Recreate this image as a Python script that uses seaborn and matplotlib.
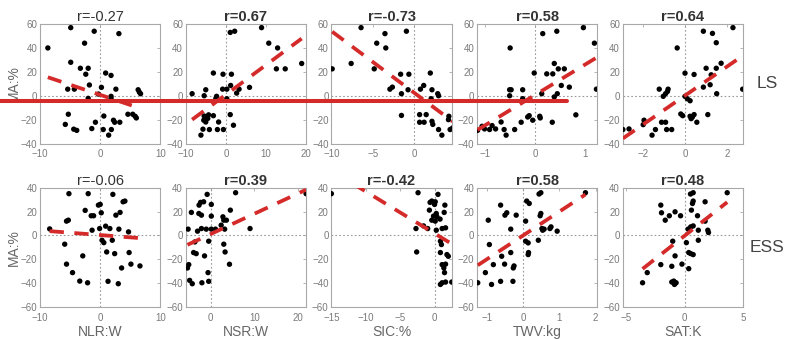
import numpy as np
import pandas as pd
import seaborn as sns
import matplotlib.pyplot as plt
from matplotlib.lines import Line2D

# ---------------- data ----------------
row_labels = ["LS", "ESS"]
x_labels = ["NLR:W", "NSR:W", "SIC:%", "TWV:kg", "SAT:K"]
y_label = "MA:%"
titles_ls = ["r=-0.27", "r=0.67", "r=-0.73", "r=0.58", "r=0.64"]
titles_ess = ["r=-0.06", "r=0.39", "r=-0.42", "r=0.58", "r=0.48"]
bold_ls = [False, True, True, True, True]
bold_ess = [False, True, True, True, True]

ls_nlr_x = [-8.7, -4.9, -1.0, 3.1, -2.6, -4.9, -3.3, -2.0, -2.4, 0.9, 1.8, -1.8, -5.4, -4.3, 0.2,
            2.6, 6.3, 6.5, 6.7, -0.3, 1.8, 1.8, -2.0, -5.3, 0.6, 4.6, 5.4, 5.8, 6.0, 2.2, 2.4,
            3.25, -0.8, -5.8, -4.4, -3.9, -1.4, 0.5, 1.85, 1.4]
ls_nlr_y = [40, 57, 54, 52, 44, 28, 23, 23, 18, 19, 17, 9, 5.5, 5.5, 7,
            5.5, 5, 3, 1.7, 1.4, -0.5, -2.5, -2.2, -15.5, -17, -15.5, -15.5, -17.2, -18.6, -20.5, -22.2,
            -22.2, -22.2, -24, -28, -29, -27.5, -28.3, -28.3, -33]

ls_nsr_x = [-8.4, -5.0, -5.4, -3.1, -0.7, 1.4, 1.1, 2.2, -0.8, 0.25, 1.2, 3.3, 2.7, 5.9, -2.3,
            -2.5, 0.25, -4.3, -5.4, -3.1, -5.5, -5.0, -5.7, -6.2, -4.1, -1.8, -2.1, -0.6, 1.1, 1.9,
            -4.5, 8.9, 10.7, 12.9, 12.6, 14.8, 18.9]
ls_nsr_y = [1.7, 5, 0, 19, 18, 18, 53, 54, 5.5, 5.5, 8.6, 5.5, 2.2, 7, -0.5,
            -2.5, -2.5, -16, -17, -16.7, -20.5, -22, -28, -33, -28.3, -22, -28.3, -28.3, -15.8, -24.7,
            -19, 57, 44, 40, 22.5, 22.5, 27]

ls_sic_x = [-9.9, -7.6, -6.4, -3.5, -0.9, -4.5, -3.4, -4.8, -1.6, -0.6, 2.0, -2.9, -2.6, -1.5, -0.7,
            0.8, 1.2, 2.2, 2.9, 3.0, 2.1, -1.5, 0.7, 1.5, 0.7, 1.25, 2.2, 2.3, 3.0, 3.4,
            4.4, 4.7, 4.2, 4.25]
ls_sic_y = [22.5, 27, 57, 52, 54, 44, 40, 22.5, 18, 18, 19, 5.5, 7.2, 1.7, 5,
            5.5, 8.6, 5, 1.7, 0, -2.5, -16.5, -15.8, -15.8, -22.2, -22.2, -21.4, -24, -28.3, -33,
            -28.3, -27, -20, -17.2]

ls_twv_x = [-0.5, 0.15, 0.43, 0.96, 1.18, 1.22, -0.02, 0.23, 0.35, 0.38, 0.46, 0.58, 0.52, 0.68, 0.44,
            0.38, 0.13, -0.51, -0.48, -0.51, -0.25, -0.25, 0.81, -0.12, -0.15, 0.09, 0.1, -0.05, -0.28, 0.34,
            -0.68, -0.86, -0.91, -0.79, -0.62, -0.41, -0.58, -1.06, -1.01, -1.15]
ls_twv_y = [40, 52, 54, 57, 44, 5.5, 19, 18.3, 18.3, 27, 22.5, 22.5, 8.6, 7.2, 1.7,
            -1, 1.7, 5, 5, 0, 5, -2.5, -16, -16.7, -17.8, -17.2, -18.6, -20.5, -22.2, -22.2,
            -22, -25, -28.3, -27.8, -28.3, -28.3, -33, -25.6, -27.8, -29]

ls_sat_x = [-0.37, 0.87, 1.3, 1.48, 2.27, 2.73, 0.0, 0.43, 1.0, 1.48, 1.71, 1.24, 1.19, 0.87, 1.5,
            -1.22, -0.8, -0.83, -0.92, -1.03, 0.0, 0.11, 0.24, -0.2, -0.11, 0.24, 0.35, 0.43, 0.29, 0.56,
            1.08, -1.94, -1.98, -1.11, -0.92, -2.94, -2.65, -1.4, -0.87, -0.63, -1.56]
ls_sat_y = [40, 54, 52.2, 44.4, 57, 5.5, 18.9, 17.8, 23, 23, 27.2, 17.5, 9.2, 7.2, 1.7,
            5.5, 5.5, 3.6, 1.7, -0.5, -0.5, -2.5, -4.2, -15.3, -16.7, -17.2, -17.8, -15.8, -19.2, -22.2,
            -15.8, -20.5, -24.2, -22.2, -22.2, -28.3, -27.8, -28.3, -28.3, -28.3, -33]

ess_nlr_x = [-5.2, -2.0, 2.1, 0.0, -0.3, 4.1, 3.8, -2.5, -1.5, -1.1, 2.6, 3.3, 0.17, -5.6, -5.3,
             -1.35, -0.1, 0.9, 1.6, 3.1, 4.7, -8.4, 0.3, 0.6, 2.0, -5.9, 1.07, 2.4, 4.8, -5.6,
             -2.9, 5.1, 6.6, 3.55, -4.6, -3.4, -2.1, 1.3, 3.0]
ess_nlr_y = [35, 35, 34.4, 26, 25.4, 28.8, 28.2, 21, 16.5, 16.5, 17, 19.3, 19, 12, 12.8,
             4.4, 5.8, 7.8, 5.8, 5.3, 3, 5.5, -4, -6, -4, -7.3, -13.8, -15.2, -14.3, -24,
             -17.1, -24, -25.5, -27.2, -31.1, -38.2, -39.6, -38.4, -40.4]

ess_nsr_x = [-4.4, -5.15, -2.3, -2.65, -1.6, -0.8, -2.7, -2.1, 0.15, 0.15, -3.0, -2.1, -1.0, 0.15, 1.1,
             2.4, 3.0, 2.8, 3.6, 4.5, 3.2, 5.7, 9.0, 21.8, -0.45, -3.6, -3.9, -3.3, -1.4, 3.0,
             3.3, 4.3, -5.0, -5.3, -0.6, -4.8, -4.2, -2.0, -0.45]
ess_nsr_y = [19.3, 5.3, 27.7, 25.4, 28.2, 34.4, 18.4, 17, 26, 16.2, 3.6, 5.8, 5.3, 5.3, 5.3,
             8.6, 12.8, 15.6, 12.8, 21.2, 5.3, 35.8, 5.8, 35, -4.8, -5.4, -14.3, -15.2, -17.1, -7.3,
             -13.8, -24.1, -24.4, -27.2, -31.1, -37.6, -40.4, -39.6, -38.4]

ess_sic_x = [-15.0, -2.4, 0.5, -0.4, 0.1, -0.65, 0.0, 1.5, -0.75, 0.25, 1.4, -0.15, 0.35, -0.4, 0.1,
             0.8, -2.7, -1.6, -1.0, 0.25, 1.1, 1.6, 0.85, 1.0, 0.85, -2.6, 1.8, 2.0, 1.1, 1.6,
             1.35, 1.45, 1.1, 0.85, 1.6, 2.5]
ess_sic_y = [35, 35.8, 34.4, 28.8, 28.2, 27.7, 26, 25.4, 21.2, 18.4, 19.3, 16.2, 15.6, 12.8, 12,
             13.7, 5.8, 8, 5.8, 4.4, 5.8, 6.4, -4.8, -7.6, -14.3, -13.8, -16, -17.4, -24.4, -24,
             -27.2, -31.1, -39.6, -41, -39, -39]

ess_twv_x = [0.44, 0.49, 1.72, -0.62, 0.1, 0.17, -0.5, -0.45, -0.19, 0.49, 0.47, -0.96, 0.07, -0.34, 0.52,
             0.58, 0.74, 0.77, 0.94, 0.54, 0.07, 0.14, 0.42, -0.93, -0.34, 0.15, 0.14, -0.59, -0.82, -0.51,
             -0.25, -0.27, -1.04, -1.25, -0.87, -0.62, -0.28]
ess_twv_y = [34.7, 35.8, 35.8, 25.4, 28.8, 26.8, 17, 19, 17, 18.4, 16.5, 12.8, 12, 5.3, 5.8,
             5.3, 5.8, 7.2, 3.6, 4.4, -4.8, -6.2, -4, -7.6, -14.3, -14.3, -16, -17.4, -24.4, -24,
             -25.5, -27.2, -31.1, -39.6, -41, -38.4, -38.4]

ess_sat_x = [0.5, 0.73, 3.64, -2.04, -1.98, -0.82, -1.31, -1.66, -0.35, 0.73, 0.67, 0.58, 1.1, 1.75, 1.75,
             0.29, 0.52, 0.73, 1.17, 1.98, 2.04, -1.02, 0.15, 1.17, -0.82, 0.35, 0.52, 0.73, -2.04, -1.1,
             -0.23, 0.35, -3.2, -3.6, -0.93, -0.73, -0.87, -1.1]
ess_sat_y = [34.7, 35.8, 35.8, 25.4, 19, 19.8, 16.5, 12.8, 16.5, 28.8, 26.8, 21.2, 16.5, 28.2, 12,
             5.3, 7.2, 8, 4.4, 4.4, 2.5, -4.8, -6, -4, -17.1, -14.3, -15.2, -16, -24.4, -25.8,
             -24, -27.8, -31.1, -39.6, -38.2, -39.6, -41, -39]

ls_data = [(ls_nlr_x, ls_nlr_y), (ls_nsr_x, ls_nsr_y), (ls_sic_x, ls_sic_y),
           (ls_twv_x, ls_twv_y), (ls_sat_x, ls_sat_y)]
ess_data = [(ess_nlr_x, ess_nlr_y), (ess_nsr_x, ess_nsr_y), (ess_sic_x, ess_sic_y),
            (ess_twv_x, ess_twv_y), (ess_sat_x, ess_sat_y)]

# ---------------- axis settings ----------------
xlims = [[(-10, 10), (-10, 20), (-10, 4.6), (-1.16, 1.24), (-2.95, 2.75)],
         [(-10, 10), (-5.7, 21.8), (-15, 2.5), (-1.27, 2.05), (-5.3, 5.0)]]
xticks = [[[-10, 0, 10], [-10, 0, 10, 20], [-10, -5, 0], [-1, 0, 1], [-2, 0, 2]],
          [[-10, 0, 10], [0, 10, 20], [-15, -10, -5, 0], [-1, 0, 1, 2], [-5, 0, 5]]]
ylims = [(-40, 60), (-60, 40)]
yticks = [[-40, -20, 0, 20, 40, 60], [-60, -40, -20, 0, 20, 40]]

sns.set_theme(style="white")
plt.rcParams['font.family'] = ['Liberation Sans', 'DejaVu Sans']

gray_txt = "#7a7a7a"
spine_c = "#a8a8a8"
red = "#d42a2a"

fig, axes = plt.subplots(2, 5, figsize=(7.88, 3.39), dpi=100)
fig.subplots_adjust(left=0.0508, right=0.943, top=0.929, bottom=0.094,
                    wspace=0.21, hspace=0.37)

all_data = [ls_data, ess_data]
all_titles = [titles_ls, titles_ess]
all_bold = [bold_ls, bold_ess]

for r in range(2):
    for c in range(5):
        ax = axes[r, c]
        xs, ys = all_data[r][c]
        df = pd.DataFrame({"x": xs, "y": ys})
        ax.axhline(0, color="#999999", ls=(0, (1.5, 2)), lw=0.8, zorder=1)
        ax.axvline(0, color="#999999", ls=(0, (1.5, 2)), lw=0.8, zorder=1)
        sns.regplot(data=df, x="x", y="y", ax=ax, ci=None, truncate=True,
                    scatter_kws=dict(s=15, color="black", alpha=1, edgecolors="none", zorder=3),
                    line_kws=dict(color=red, lw=2.7, ls=(0, (3.8, 2.8)), zorder=4))
        ax.set_xlim(*xlims[r][c])
        ax.set_ylim(*ylims[r])
        ax.set_xticks(xticks[r][c])
        ax.set_yticks(yticks[r])
        ax.set_xlabel("")
        ax.set_ylabel("")
        ax.tick_params(direction="in", length=2.5, width=0.6, colors=spine_c,
                       labelcolor=gray_txt, labelsize=7, pad=2,
                       top=True, right=True)
        ax.tick_params(axis="x", pad=4)
        for s in ax.spines.values():
            s.set_color(spine_c)
            s.set_linewidth(0.8)
        ax.set_title(all_titles[r][c], fontsize=10.5, pad=2, color="#333333",
                     fontweight="bold" if all_bold[r][c] else "normal")
        if c == 0:
            ax.set_ylabel(y_label, fontsize=10, color="#666666", labelpad=0)
        if r == 1:
            ax.set_xlabel(x_labels[c], fontsize=10, color="#666666", labelpad=2)
    axes[r, 4].text(1.2, 0.5, row_labels[r], transform=axes[r, 4].transAxes,
                    fontsize=12.5, color="#444444", ha="center", va="center")

# red horizontal overlay line across the top row
fig.add_artist(Line2D([0.0, 0.72], [0.702, 0.702], transform=fig.transFigure,
                      color=red, lw=2.9, zorder=10))

fig.savefig("out.png", dpi=100)
